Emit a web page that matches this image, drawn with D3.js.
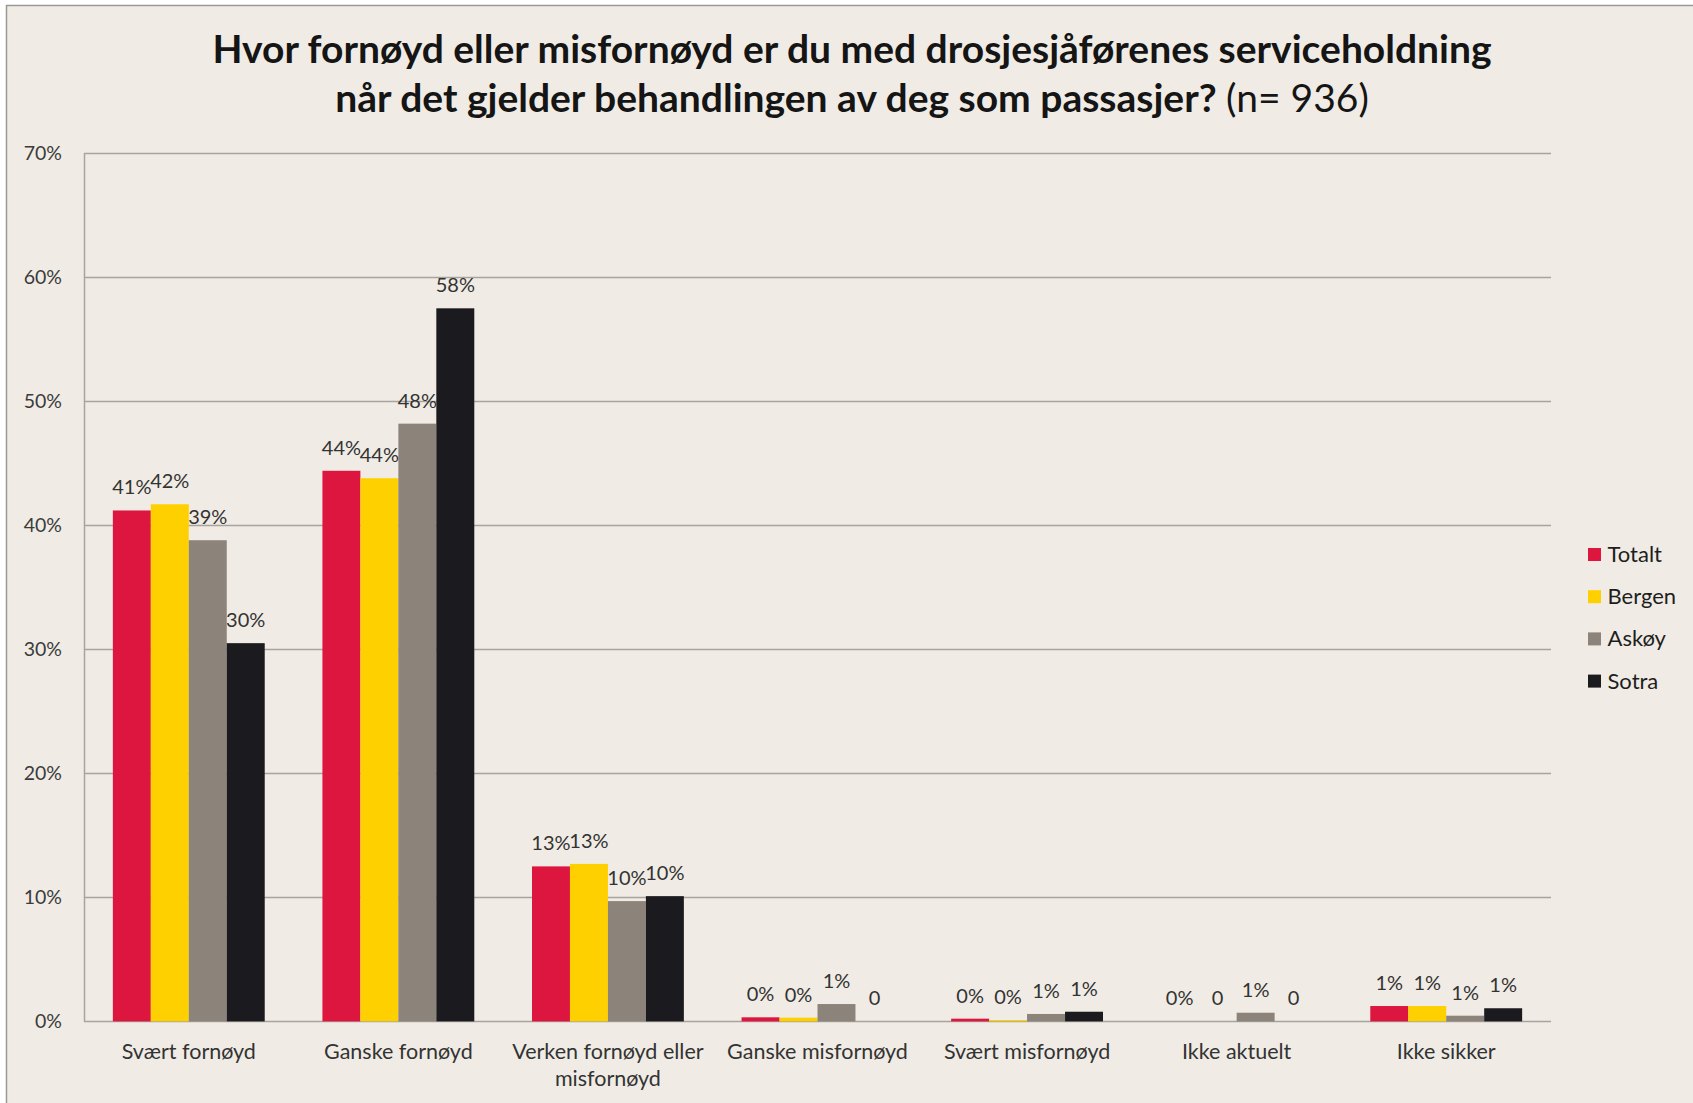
<!DOCTYPE html>
<html>
<head>
<meta charset="utf-8">
<script src="https://cdn.jsdelivr.net/npm/d3@7"></script>
<style>
  body { margin: 0; background: #ffffff; }
  text { font-family: Lato, "Open Sans", sans-serif; }
</style>
</head>
<body>
<script>
var SVG_WIDTH = 1693;
var SVG_HEIGHT = 1103;
var BACKGROUND_COLOR = "#f0ece5";

var categories = [["Svært fornøyd"], ["Ganske fornøyd"], ["Verken fornøyd eller", "misfornøyd"],
                  ["Ganske misfornøyd"], ["Svært misfornøyd"], ["Ikke aktuelt"], ["Ikke sikker"]];
var seriesNames = ["Totalt", "Bergen", "Askøy", "Sotra"];
var seriesColors = ["#dd1640", "#ffd000", "#8c837a", "#1b1a1e"];

// values in percent, one array per series
var totalt = [41.2, 44.4, 12.5, 0.33, 0.22, 0, 1.24];
var bergen = [41.7, 43.8, 12.7, 0.3, 0.1, 0, 1.24];
var askoy  = [38.8, 48.2, 9.7, 1.4, 0.6, 0.7, 0.46];
var sotra  = [30.5, 57.5, 10.1, 0, 0.78, 0, 1.06];

// data labels as printed in the chart
var totaltLabels = ["41%", "44%", "13%", "0%", "0%", "0%", "1%"];
var bergenLabels = ["42%", "44%", "13%", "0%", "0%", "0", "1%"];
var askoyLabels  = ["39%", "48%", "10%", "1%", "1%", "1%", "1%"];
var sotraLabels  = ["30%", "58%", "10%", "0", "1%", "0", "1%"];

var yTicks = [0, 10, 20, 30, 40, 50, 60, 70];

var seriesValues = [totalt, bergen, askoy, sotra];
var seriesLabels = [totaltLabels, bergenLabels, askoyLabels, sotraLabels];

var svg, xScale, xInner, yScale;

function setupChart()
{
  svg = d3.select("body").append("svg")
          .attr("width", SVG_WIDTH)
          .attr("height", SVG_HEIGHT);

  svg.append("rect")
          .attr("x", 6.5)
          .attr("y", 5.5)
          .attr("width", SVG_WIDTH)
          .attr("height", SVG_HEIGHT)
          .style("fill", BACKGROUND_COLOR)
          .style("stroke", "#9b9996")
          .style("stroke-width", 1.5);

  xScale = d3.scaleBand()
          .domain(d3.range(categories.length))
          .range([84, 1551])
          .padding(0);

  xInner = d3.scaleBand()
          .domain(d3.range(seriesNames.length))
          .range([0, xScale.bandwidth()])
          .paddingInner(0)
          .paddingOuter(0.76);

  yScale = d3.scaleLinear()
          .domain([0, 70])
          .range([1021.4, 153.3]);
}

function setupTitle()
{
  var title = svg.append("text")
          .attr("text-anchor", "middle")
          .style("fill", "#151515");

  title.append("tspan")
          .attr("x", 852)
          .attr("y", 63)
          .style("font-size", "39px")
          .style("font-weight", "bold")
          .text("Hvor fornøyd eller misfornøyd er du med drosjesjåførenes serviceholdning");

  var line2 = title.append("tspan")
          .attr("x", 852)
          .attr("y", 112)
          .style("font-size", "39px");
  line2.append("tspan")
          .style("font-weight", "bold")
          .text("når det gjelder behandlingen av deg som passasjer? ");
  line2.append("tspan")
          .style("font-weight", "normal")
          .text("(n= 936)");
}

function setupAxes()
{
  // gridlines
  svg.append("g")
          .selectAll("line")
          .data(yTicks)
          .join("line")
          .attr("x1", 84)
          .attr("x2", 1551)
          .attr("y1", function(d) { return Math.round(yScale(d)) + 0.5; })
          .attr("y2", function(d) { return Math.round(yScale(d)) + 0.5; })
          .style("stroke", "#a7a39e")
          .style("stroke-width", 1.5);

  // left axis line
  svg.append("line")
          .attr("x1", 84.5)
          .attr("x2", 84.5)
          .attr("y1", yScale(70))
          .attr("y2", yScale(0))
          .style("stroke", "#a7a39e")
          .style("stroke-width", 1.5);

  var yAxis = d3.axisLeft(yScale)
          .tickValues(yTicks)
          .tickSize(0)
          .tickPadding(22)
          .tickFormat(function(d) { return d + "%"; });

  var yg = svg.append("g")
          .attr("transform", "translate(84,0)")
          .call(yAxis);
  yg.select(".domain").remove();
  yg.selectAll("text")
          .style("font-family", "Lato, sans-serif")
          .style("font-size", "19.5px")
          .style("fill", "#3b3b3b");

  // category labels
  var xg = svg.append("g");
  categories.forEach(function(lines, i)
  {
    var t = xg.append("text")
          .attr("text-anchor", "middle")
          .style("font-size", "21.5px")
          .style("fill", "#333333");
    lines.forEach(function(s, j)
    {
      t.append("tspan")
          .attr("x", xScale(i) + xScale.bandwidth() / 2)
          .attr("y", 1059 + j * 27)
          .text(s);
    });
  });
}

function setupBars()
{
  var groups = svg.append("g")
          .selectAll("g")
          .data(categories.map(function(c, i) { return i; }))
          .join("g")
          .attr("transform", function(i) { return "translate(" + xScale(i) + ",0)"; });

  groups.selectAll("rect")
          .data(function(i) { return seriesNames.map(function(s, k) { return { k: k, v: seriesValues[k][i] }; }); })
          .join("rect")
          .attr("x", function(d) { return xInner(d.k); })
          .attr("width", xInner.bandwidth())
          .attr("y", function(d) { return yScale(d.v); })
          .attr("height", function(d) { return yScale(0) - yScale(d.v); })
          .style("fill", function(d) { return seriesColors[d.k]; });

  groups.selectAll("text")
          .data(function(i) { return seriesNames.map(function(s, k) { return { k: k, v: seriesValues[k][i], label: seriesLabels[k][i] }; }); })
          .join("text")
          .attr("x", function(d) { return xInner(d.k) + xInner.bandwidth() / 2; })
          .attr("y", function(d) { return yScale(d.v) - 16; })
          .attr("text-anchor", "middle")
          .style("font-size", "20px")
          .style("fill", "#333333")
          .text(function(d) { return d.label; });
}

function setupLegend()
{
  var legend = svg.append("g")
          .attr("transform", "translate(1588,548)");

  var items = legend.selectAll("g")
          .data(seriesNames)
          .join("g")
          .attr("transform", function(d, i) { return "translate(0," + (i * 42.2) + ")"; });

  items.append("rect")
          .attr("width", 13)
          .attr("height", 13)
          .style("fill", function(d, i) { return seriesColors[i]; });

  items.append("text")
          .attr("x", 19.5)
          .attr("y", 14)
          .style("font-size", "22px")
          .style("fill", "#1e1e1e")
          .text(function(d) { return d; });
}

setupChart();
setupTitle();
setupAxes();
setupBars();
setupLegend();
</script>
</body>
</html>
